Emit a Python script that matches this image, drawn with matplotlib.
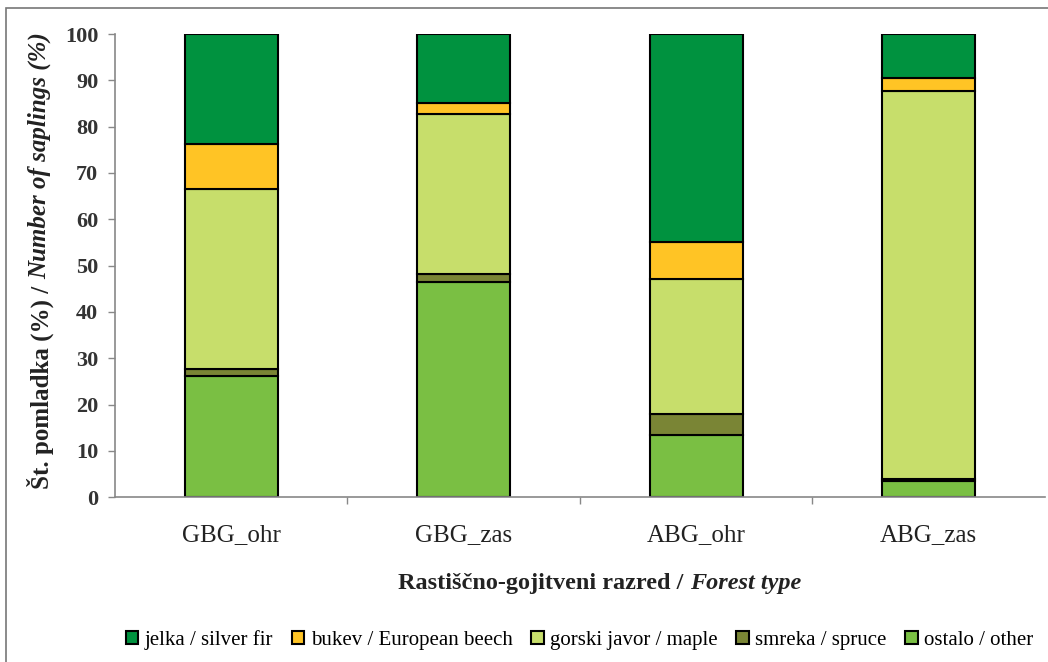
import matplotlib.pyplot as plt
import numpy as np
from matplotlib.patches import Rectangle

plt.rcParams['font.family'] = ['Liberation Serif', 'DejaVu Serif']

# podatki
categories = ['GBG_ohr', 'GBG_zas', 'ABG_ohr', 'ABG_zas']
ostalo = [26.2, 46.4, 13.5, 3.4]
smreka = [1.4, 1.8, 4.5, 0.6]
gorski_javor = [38.9, 34.6, 29.0, 83.7]
bukev = [9.7, 2.3, 8.2, 2.9]
jelka = [23.8, 14.9, 44.8, 9.4]

series = [
    ('ostalo / other', ostalo, '#7abf43'),
    ('smreka / spruce', smreka, '#7a8535'),
    ('gorski javor / maple', gorski_javor, '#c7de6b'),
    ('bukev / European beech', bukev, '#ffc425'),
    ('jelka / silver fir', jelka, '#00923f'),
]

fig = plt.figure(figsize=(10.48, 6.62), dpi=100)
ax = fig.add_axes([0.1097, 0.249, 0.8873, 0.6996])

x = np.arange(len(categories))
bottom = np.zeros(len(categories))
handles = {}
for label, vals, col in series:
    b = ax.bar(x, vals, width=0.4, bottom=bottom, color=col,
               edgecolor='black', linewidth=1.5, label=label)
    handles[label] = b
    bottom += np.array(vals)

ax.set_xlim(-0.5, len(categories) - 0.5)
ax.set_ylim(0, 100)
ax.set_yticks(np.arange(0, 101, 10))
ax.tick_params(axis='y', labelsize=16, length=5, width=1,
               color='#888888', pad=7)
for t in ax.get_yticklabels():
    t.set_fontweight('bold')
    t.set_color('#333333')

# x ticks at category boundaries, labels centred
ax.set_xticks(np.arange(0.5, len(categories) - 0.5, 1))
ax.set_xticklabels([])
ax.tick_params(axis='x', length=5, width=1, color='#888888')
for i, c in enumerate(categories):
    ax.text(i, -8.2, c, ha='center', va='center', fontsize=18, color='#222222')

for s in ['top', 'right']:
    ax.spines[s].set_visible(False)
for s in ['left', 'bottom']:
    ax.spines[s].set_color('#888888')
    ax.spines[s].set_linewidth(1.2)

# oznaka y osi
t1 = fig.text(0.038, 0.262, 'Št. pomladka (%) / ', rotation=90, ha='center',
              va='bottom', fontsize=18, fontweight='bold', color='#222222')
ax.annotate('Number of saplings (%)', xy=(0.5, 1), xycoords=t1, rotation=90,
            ha='center', va='bottom', fontsize=18, fontweight='bold',
            style='italic', color='#222222')

# oznaka x osi
t2 = fig.text(0.38, 0.119, 'Rastiščno-gojitveni razred / ', ha='left',
              va='center', fontsize=17.5, fontweight='bold', color='#222222')
ax.annotate('Forest type', xy=(1, 0.5), xycoords=t2, ha='left', va='center',
            fontsize=17.5, fontweight='bold', style='italic', color='#222222')

order = ['jelka / silver fir', 'bukev / European beech', 'gorski javor / maple',
         'smreka / spruce', 'ostalo / other']
leg = fig.legend([handles[k] for k in order], order, loc='center',
                 bbox_to_anchor=(0.553, 0.033), ncol=5, frameon=False,
                 fontsize=15, handlelength=0.6, handleheight=0.6,
                 handletextpad=0.3, columnspacing=0.9)

# okvir slike
fig.patches.append(Rectangle((0.006, -0.1), 1.2, 1.088, transform=fig.transFigure,
                             fill=False, edgecolor='#777777', linewidth=1.2))

fig.savefig('out.png', dpi=100)
